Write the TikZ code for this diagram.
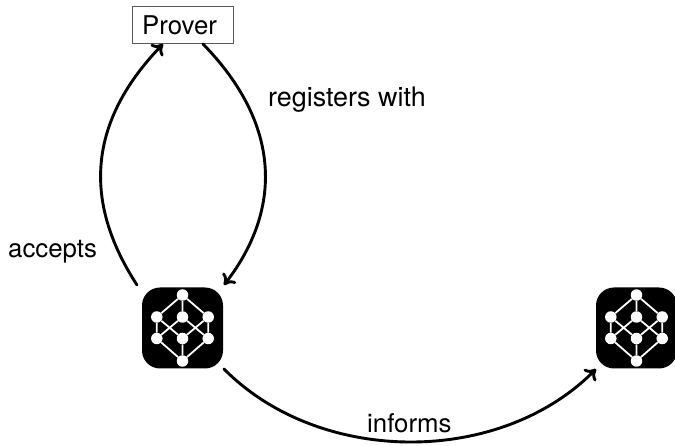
\documentclass[tikz,border=0pt]{standalone}
\usepackage{fontspec}
\setmainfont{TeX Gyre Heros}
\usetikzlibrary{arrows.meta}
\tikzset{
  x=1pt,y=-1pt,
  lbl/.style={inner sep=0pt,font=\fontsize{25.8}{30}\selectfont,anchor=base west},
  box/.style={draw=black!65,line width=0.9pt,inner sep=0pt,minimum width=101pt,minimum height=36.5pt,fill=white},
  tile/.style={fill=black,rounded corners=18pt,minimum size=81pt,inner sep=0pt},
  dot/.style={circle,fill=white,minimum size=11.5pt,inner sep=0pt},
  bond/.style={draw=white,line width=1.8pt},
  link/.style={line width=2.9pt,-{To[length=10pt,width=17pt,line width=2.9pt]},line cap=round}
}
\newcommand{\cubeicon}[3]{%
  \node[tile] (#1) at (#2,#3) {};
  \node[dot] (#1t) at (#2,#3-33) {};
  \node[dot] (#1lu) at (#2-25.7,#3-11) {};
  \node[dot] (#1cu) at (#2,#3-11) {};
  \node[dot] (#1ru) at (#2+25.7,#3-11) {};
  \node[dot] (#1ll) at (#2-25.7,#3+10.5) {};
  \node[dot] (#1cl) at (#2,#3+10.5) {};
  \node[dot] (#1rl) at (#2+25.7,#3+10.5) {};
  \node[dot] (#1b) at (#2,#3+33) {};
  \draw[bond] (#1t)--(#1lu) (#1t)--(#1cu) (#1t)--(#1ru)
    (#1lu)--(#1ll) (#1ru)--(#1rl)
    (#1ll)--(#1b) (#1cl)--(#1b) (#1rl)--(#1b)
    (#1lu)--(#1cl) (#1ru)--(#1cl) (#1ll)--(#1cu) (#1rl)--(#1cu);
}
\begin{document}
\begin{tikzpicture}
\useasboundingbox (0,0) rectangle (675,446);
\node[box] (prover) at (182.5,25) {};
\node[lbl] (provertext) at (142,35) {Prover};
\cubeicon{a}{182.5}{328}
\cubeicon{b}{636.5}{328}
\coordinate (proverin) at (163,44);
\coordinate (proverout) at (203,44);
\coordinate (aout) at (137,285);
\coordinate (ain) at (224,285);
\coordinate (ainf) at (224,369);
\coordinate (binf) at (596,369);
\draw[link] (aout) .. controls (85,205) and (85,125) .. (proverin);
\draw[link] (proverout) .. controls (282,125) and (282,210) .. (ain);
\draw[link] (ainf) .. controls (320,466) and (500,466) .. (binf);
\node[lbl,font=\fontsize{26.9}{30}\selectfont] (registers) at (268,106.5) {registers with};
\node[lbl] (accepts) at (8,257.5) {accepts};
\node[lbl] (informs) at (367,432) {informs};
\end{tikzpicture}
\end{document}
